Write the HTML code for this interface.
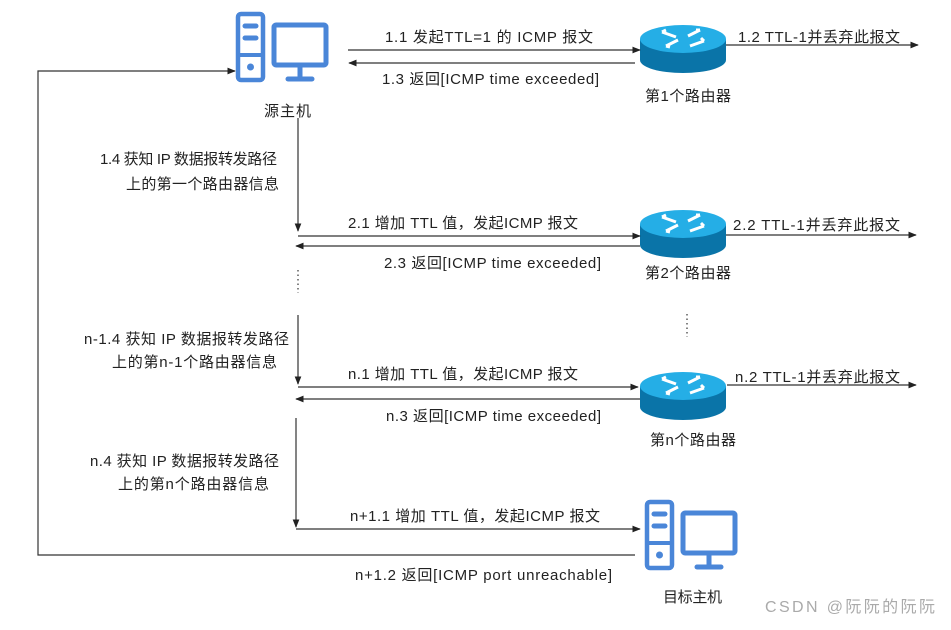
<!DOCTYPE html>
<html><head><meta charset="utf-8"><style>
body{margin:0;background:#fff;width:951px;height:625px;overflow:hidden}
text{font-family:"Liberation Sans","Noto Sans CJK SC",sans-serif;font-size:15px;fill:#222}
</style></head><body>
<svg width="951" height="625" viewBox="0 0 951 625" xmlns="http://www.w3.org/2000/svg">
<defs>
<marker id="a" viewBox="0 0 10 10" refX="9" refY="5" markerWidth="7" markerHeight="7" orient="auto-start-reverse"><path d="M0,1 L10,5 L0,9 z" fill="#222"/></marker>
<g id="host">
<rect x="2" y="2" width="25" height="66" rx="3" fill="none" stroke="#4a86d8" stroke-width="4.5"/>
<line x1="2" y1="43" x2="27" y2="43" stroke="#4a86d8" stroke-width="4"/>
<line x1="9" y1="14" x2="20" y2="14" stroke="#4a86d8" stroke-width="5" stroke-linecap="round"/>
<line x1="9" y1="26" x2="20" y2="26" stroke="#4a86d8" stroke-width="5" stroke-linecap="round"/>
<circle cx="14.5" cy="55" r="3.5" fill="#4a86d8"/>
<rect x="38" y="13" width="52" height="40" rx="2" fill="none" stroke="#4a86d8" stroke-width="5"/>
<line x1="64" y1="53" x2="64" y2="66" stroke="#4a86d8" stroke-width="5"/>
<line x1="52" y1="67" x2="76" y2="67" stroke="#4a86d8" stroke-width="5" stroke-linecap="round"/>
</g>
<g id="router">
<path d="M0,15 L0,36 A43,13 0 0 0 86,36 L86,15 Z" fill="#0a74a8"/>
<ellipse cx="43" cy="15" rx="43" ry="14" fill="#25aee6"/>
<path d="M22,8 l14,5 M22,8 l4,-2 M50,22 l14,-5 M64,17 l-3,-3 M60,6 l-12,6 M60,6 l-4,0 M26,22 l12,-6 M26,22 l4,1" stroke="#fff" stroke-width="3" fill="none"/>
</g>
</defs>
<use href="#host" x="236" y="12"/>
<use href="#host" x="645" y="500"/>
<use href="#router" x="640" y="24"/>
<use href="#router" x="640" y="209"/>
<use href="#router" x="640" y="371"/>
<g stroke="#333" stroke-width="1.2" fill="none">
<line x1="348" y1="50" x2="640" y2="50" marker-end="url(#a)"/>
<line x1="635" y1="63" x2="349" y2="63" marker-end="url(#a)"/>
<line x1="726" y1="45" x2="918" y2="45" marker-end="url(#a)"/>
<polyline points="635,555 38,555 38,71 235,71" marker-end="url(#a)"/>
<line x1="298" y1="118" x2="298" y2="231" marker-end="url(#a)"/>
<line x1="298" y1="236" x2="640" y2="236" marker-end="url(#a)"/>
<line x1="640" y1="246" x2="296" y2="246" marker-end="url(#a)"/>
<line x1="726" y1="235" x2="916" y2="235" marker-end="url(#a)"/>
<line x1="298" y1="315" x2="298" y2="384" marker-end="url(#a)"/>
<line x1="298" y1="387" x2="638" y2="387" marker-end="url(#a)"/>
<line x1="640" y1="399" x2="296" y2="399" marker-end="url(#a)"/>
<line x1="727" y1="385" x2="916" y2="385" marker-end="url(#a)"/>
<line x1="296" y1="418" x2="296" y2="527" marker-end="url(#a)"/>
<line x1="296" y1="529" x2="640" y2="529" marker-end="url(#a)"/>
<line x1="298" y1="270" x2="298" y2="293" stroke-dasharray="1.5,3"/>
<line x1="687" y1="314" x2="687" y2="337" stroke-dasharray="1.5,3"/>
</g>
<g lengthAdjust="spacingAndGlyphs">
<text x="385" y="42" textLength="208">1.1  发起TTL=1 的 ICMP 报文</text>
<text x="382" y="84" textLength="217">1.3 返回[ICMP time exceeded]</text>
<text x="738" y="42" textLength="162">1.2  TTL-1并丢弃此报文</text>
<text x="645" y="101" textLength="86">第1个路由器</text>
<text x="264" y="116" textLength="47">源主机</text>
<text x="100" y="164" textLength="177">1.4 获知 IP 数据报转发路径</text>
<text x="126" y="189" textLength="153">上的第一个路由器信息</text>
<text x="348" y="228" textLength="230">2.1 增加 TTL 值，发起ICMP 报文</text>
<text x="384" y="268" textLength="217">2.3 返回[ICMP time exceeded]</text>
<text x="733" y="230" textLength="167">2.2  TTL-1并丢弃此报文</text>
<text x="645" y="278" textLength="86">第2个路由器</text>
<text x="84" y="344" textLength="205">n-1.4 获知 IP 数据报转发路径</text>
<text x="112" y="367" textLength="165">上的第n-1个路由器信息</text>
<text x="348" y="379" textLength="230">n.1 增加 TTL 值，发起ICMP 报文</text>
<text x="386" y="421" textLength="215">n.3 返回[ICMP time exceeded]</text>
<text x="735" y="382" textLength="165">n.2  TTL-1并丢弃此报文</text>
<text x="650" y="445" textLength="86">第n个路由器</text>
<text x="90" y="466" textLength="189">n.4 获知 IP 数据报转发路径</text>
<text x="118" y="489" textLength="151">上的第n个路由器信息</text>
<text x="350" y="521" textLength="250">n+1.1 增加 TTL 值，发起ICMP 报文</text>
<text x="355" y="580" textLength="257">n+1.2 返回[ICMP port unreachable]</text>
<text x="663" y="602" textLength="59">目标主机</text>
<text x="765" y="612" textLength="170" style="fill:#aaa;font-size:16px">CSDN @阮阮的阮阮</text>
</g>
</svg>
</body></html>
